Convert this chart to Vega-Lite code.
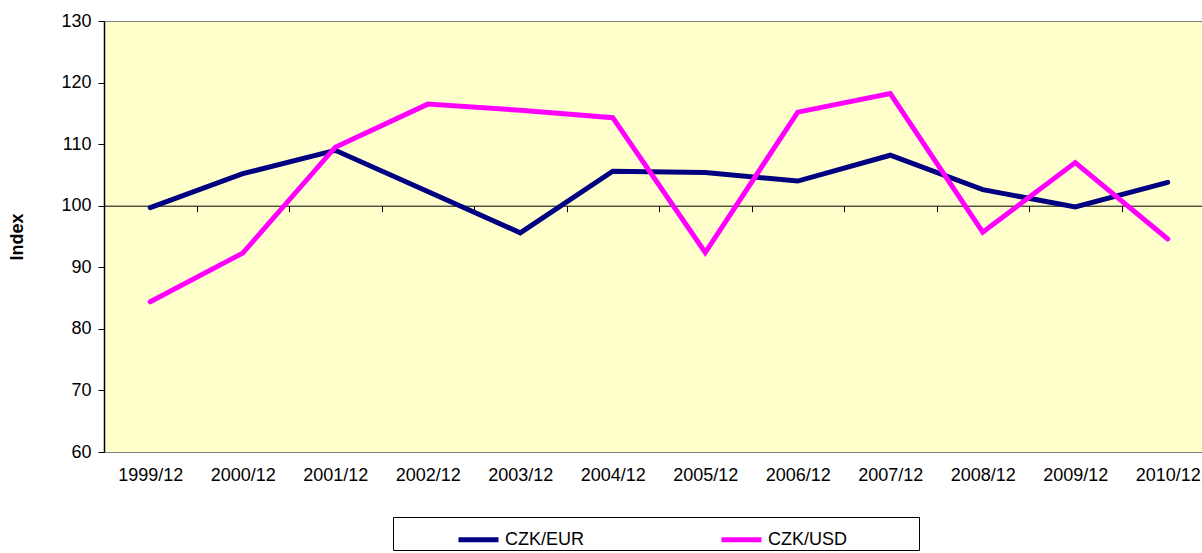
{
  "$schema": "https://vega.github.io/schema/vega-lite/v6.json",
  "autosize": {"type": "none"},
  "padding": {"left": 104, "top": 21, "right": 0, "bottom": 101},
  "width": 1099,
  "height": 431,
  "background": "white",
  "config": {
    "font": "Liberation Sans",
    "view": {"fill": "#FFFFCC", "stroke": "#808080", "strokeWidth": 1}
  },
  "data": {
    "values": [
      {"period": "1999/12", "series": "CZK/EUR", "value": 99.7},
      {"period": "2000/12", "series": "CZK/EUR", "value": 105.2},
      {"period": "2001/12", "series": "CZK/EUR", "value": 109.0},
      {"period": "2002/12", "series": "CZK/EUR", "value": 102.3},
      {"period": "2003/12", "series": "CZK/EUR", "value": 95.6},
      {"period": "2004/12", "series": "CZK/EUR", "value": 105.6},
      {"period": "2005/12", "series": "CZK/EUR", "value": 105.4},
      {"period": "2006/12", "series": "CZK/EUR", "value": 104.0},
      {"period": "2007/12", "series": "CZK/EUR", "value": 108.2},
      {"period": "2008/12", "series": "CZK/EUR", "value": 102.6},
      {"period": "2009/12", "series": "CZK/EUR", "value": 99.8},
      {"period": "2010/12", "series": "CZK/EUR", "value": 103.8},
      {"period": "1999/12", "series": "CZK/USD", "value": 84.4},
      {"period": "2000/12", "series": "CZK/USD", "value": 92.3},
      {"period": "2001/12", "series": "CZK/USD", "value": 109.5},
      {"period": "2002/12", "series": "CZK/USD", "value": 116.5},
      {"period": "2003/12", "series": "CZK/USD", "value": 115.5},
      {"period": "2004/12", "series": "CZK/USD", "value": 114.3},
      {"period": "2005/12", "series": "CZK/USD", "value": 92.4},
      {"period": "2006/12", "series": "CZK/USD", "value": 115.2},
      {"period": "2007/12", "series": "CZK/USD", "value": 118.2},
      {"period": "2008/12", "series": "CZK/USD", "value": 95.7},
      {"period": "2009/12", "series": "CZK/USD", "value": 107.0},
      {"period": "2010/12", "series": "CZK/USD", "value": 94.6}
    ]
  },
  "mark": {"type": "line", "strokeWidth": 5, "strokeCap": "round", "strokeJoin": "miter"},
  "encoding": {
    "x": {
      "field": "period",
      "type": "ordinal",
      "scale": {"type": "band", "paddingInner": 0, "paddingOuter": 0, "range": [0, 1110]},
      "axis": {
        "title": null,
        "offset": -246.3,
        "tickBand": "extent",
        "domainColor": "#000000",
        "domainWidth": 1,
        "tickColor": "#000000",
        "tickSize": 6,
        "labelAngle": 0,
        "labelFontSize": 18,
        "labelColor": "#000000",
        "labelPadding": 255,
        "labelBaseline": "top"
      }
    },
    "y": {
      "field": "value",
      "type": "quantitative",
      "scale": {"domain": [60, 130], "nice": false, "zero": false},
      "axis": {
        "title": "Index",
        "titleFontSize": 18,
        "titleFontWeight": "bold",
        "titleColor": "#000000",
        "titlePadding": 34,
        "values": [60, 70, 80, 90, 100, 110, 120, 130],
        "grid": false,
        "domainColor": "#000000",
        "domainWidth": 1.5,
        "tickColor": "#000000",
        "tickSize": 6,
        "labelFontSize": 18,
        "labelColor": "#000000",
        "labelPadding": 7
      }
    },
    "color": {
      "field": "series",
      "type": "nominal",
      "scale": {"domain": ["CZK/EUR", "CZK/USD"], "range": ["#000080", "#FF00FF"]},
      "legend": {
        "orient": "none",
        "legendX": 289,
        "legendY": 496,
        "direction": "horizontal",
        "title": "\u2003\u2003",
        "titleOrient": "right",
        "titlePadding": 72,
        "titleFontSize": 18,
        "symbolType": "stroke",
        "symbolStrokeWidth": 5,
        "symbolSize": 1600,
        "symbolOffset": 63,
        "labelFontSize": 18,
        "labelColor": "#000000",
        "labelOffset": 4,
        "columnPadding": 71,
        "padding": 0,
        "strokeColor": "#000000",
        "fillColor": "#FFFFFF"
      }
    }
  }
}
